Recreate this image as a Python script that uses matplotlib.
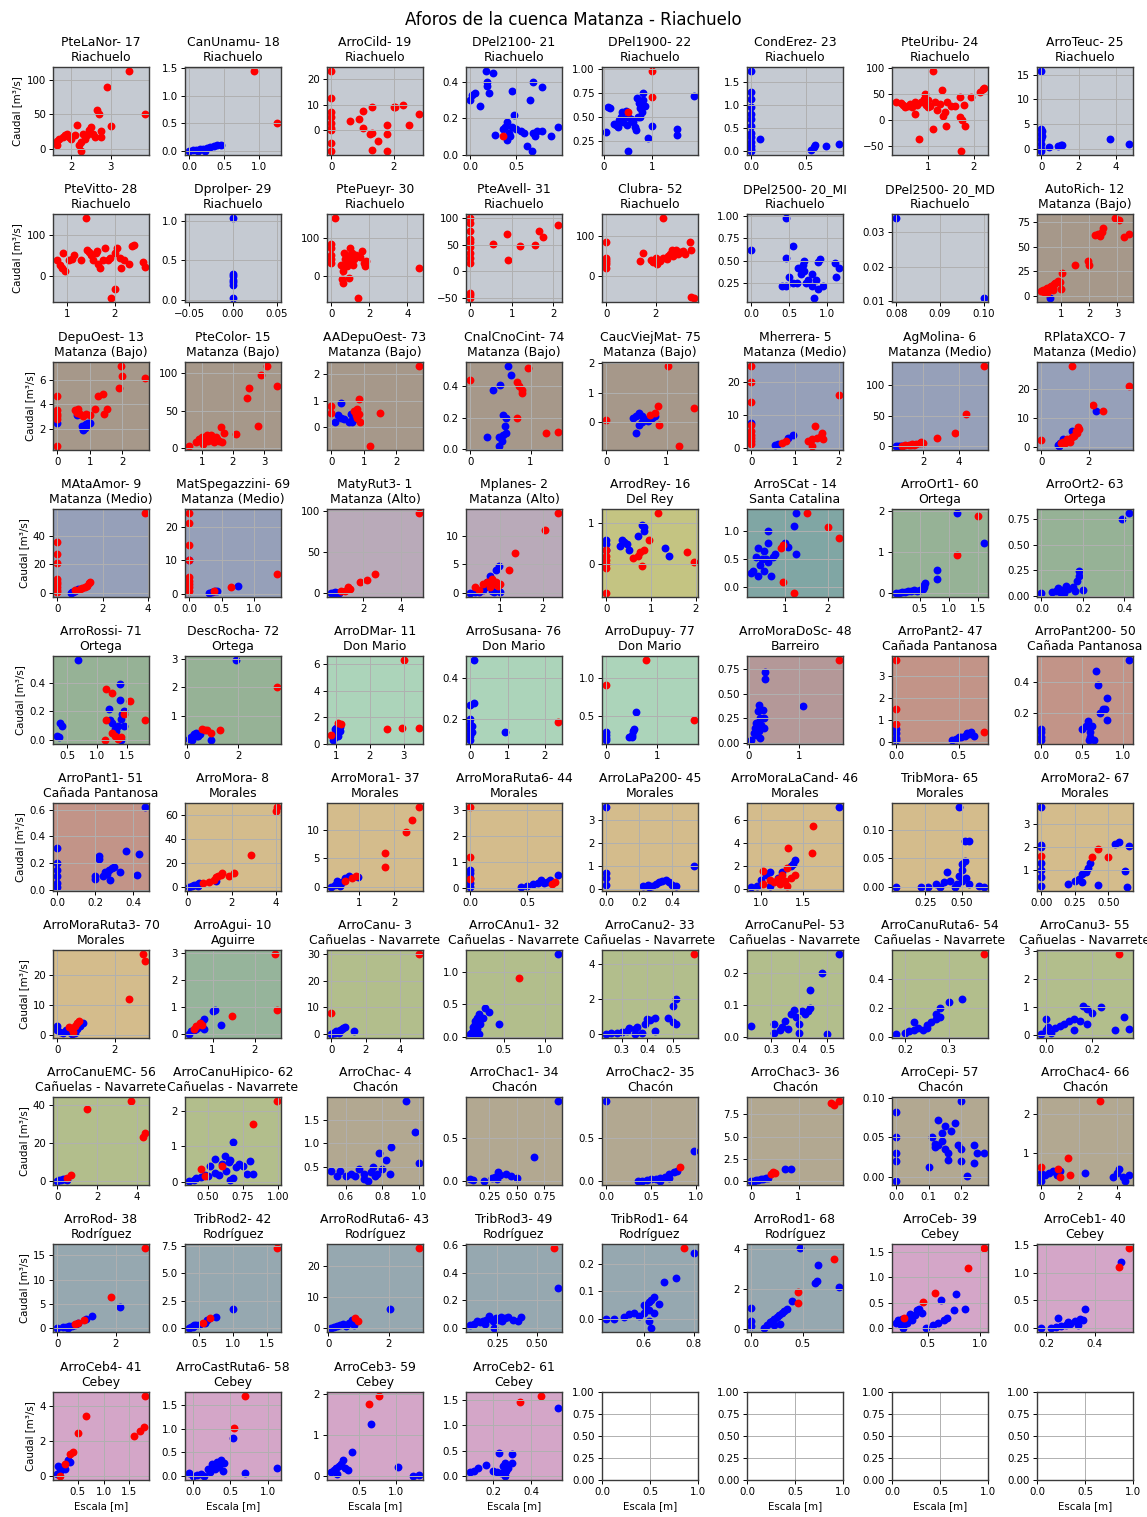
import matplotlib
matplotlib.use("Agg")
import matplotlib.pyplot as plt

# estaciones y cuencas, en el orden de los paneles
estaciones = ["PteLaNor- 17", "CanUnamu- 18", "ArroCild- 19", "DPel2100- 21",
              "DPel1900- 22", "CondErez- 23", "PteUribu- 24", "ArroTeuc- 25",
              "PteVitto- 28", "Dprolper- 29", "PtePueyr- 30", "PteAvell- 31",
              "Clubra- 52", "DPel2500- 20_MI", "DPel2500- 20_MD", "AutoRich- 12",
              "DepuOest- 13", "PteColor- 15", "AADepuOest- 73", "CnalCnoCint- 74",
              "CaucViejMat- 75", "Mherrera- 5", "AgMolina- 6", "RPlataXCO- 7",
              "MAtaAmor- 9", "MatSpegazzini- 69", "MatyRut3- 1", "Mplanes- 2",
              "ArrodRey- 16", "ArroSCat - 14", "ArroOrt1- 60", "ArroOrt2- 63",
              "ArroRossi- 71", "DescRocha- 72", "ArroDMar- 11", "ArroSusana- 76",
              "ArroDupuy- 77", "ArroMoraDoSc- 48", "ArroPant2- 47", "ArroPant200- 50",
              "ArroPant1- 51", "ArroMora- 8", "ArroMora1- 37", "ArroMoraRuta6- 44",
              "ArroLaPa200- 45", "ArroMoraLaCand- 46", "TribMora- 65", "ArroMora2- 67",
              "ArroMoraRuta3- 70", "ArroAgui- 10", "ArroCanu- 3", "ArroCAnu1- 32",
              "ArroCanu2- 33", "ArroCanuPel- 53", "ArroCanuRuta6- 54", "ArroCanu3- 55",
              "ArroCanuEMC- 56", "ArroCanuHipico- 62", "ArroChac- 4", "ArroChac1- 34",
              "ArroChac2- 35", "ArroChac3- 36", "ArroCepi- 57", "ArroChac4- 66",
              "ArroRod- 38", "TribRod2- 42", "ArroRodRuta6- 43", "TribRod3- 49",
              "TribRod1- 64", "ArroRod1- 68", "ArroCeb- 39", "ArroCeb1- 40",
              "ArroCeb4- 41", "ArroCastRuta6- 58", "ArroCeb3- 59", "ArroCeb2- 61"]

cuencas = (["Riachuelo"] * 15 + ["Matanza (Bajo)"] * 6 + ["Matanza (Medio)"] * 3
           + ["Matanza (Medio)"] * 2 + ["Matanza (Alto)"] * 2 + ["Del Rey", "Santa Catalina"]
           + ["Ortega"] * 4 + ["Don Mario"] * 3 + ["Barreiro"] + ["Cañada Pantanosa"] * 3
           + ["Morales"] * 8 + ["Aguirre"] + ["Cañuelas - Navarrete"] * 8
           + ["Chacón"] * 6 + ["Rodríguez"] * 6 + ["Cebey"] * 6)

colores_cuenca = {"Riachuelo": "#c5cad2", "Matanza (Bajo)": "#a6988a",
                  "Matanza (Medio)": "#96a0b9", "Matanza (Alto)": "#b9aab9",
                  "Del Rey": "#c4c482", "Santa Catalina": "#80a6a4",
                  "Ortega": "#96b296", "Don Mario": "#acd4ba", "Barreiro": "#b49898",
                  "Cañada Pantanosa": "#c29488", "Morales": "#d4bc8c",
                  "Aguirre": "#96b49b", "Cañuelas - Navarrete": "#b2be8c",
                  "Chacón": "#b2a891", "Rodríguez": "#96a8b0", "Cebey": "#d4a6c8"}

# aforos: [escala [m], caudal [m3/s]] -- rojo y azul por panel
p01_rojo = [[3.45, 2.9, 2.65, 2.7, 3.85, 3.0, 2.75, 2.75, 2.5, 2.55, 2.4, 2.15, 2.3, 2.25, 2.2, 2.25, 1.9, 1.8, 1.95, 1.7, 1.65, 1.65, 2.0, 2.1, 2.6, 2.35, 1.85, 2.45],
            [113, 90, 56, 50, 50, 33, 26, 17, 32, 22, 20, 35, 22, 10, 5, -3, 22, 17, 18, 14, 12, 5, 15, 20, 18, 15, 20, 28]]
p01_azul = [[], []]
p02_rojo = [[0.92, 1.25], [1.45, 0.5]]
p02_azul = [[0, 0.05, 0.1, 0.15, 0.2, 0.25, 0.3, 0.35, 0.4, 0.45, 0.22, 0.12],
            [0, 0.01, 0.02, 0.03, 0.04, 0.05, 0.07, 0.09, 0.1, 0.11, 0.0, 0.0]]
p03_rojo = [[0, 0, 0, 0, 0, 0, 0, 0, 0, 0.6, 0.9, 1.0, 1.0, 1.3, 1.25, 1.3, 1.3, 1.5, 1.8, 1.8, 1.8, 2.0, 2.05, 2.3, 2.5, 2.8],
            [23, 12.5, 7, 5, 3, 1, -5, -8, 0, 3.5, 4.5, 7.5, 1, 9, -1.5, -1, -7.5, -4, 2, -1.5, -8, 9, 9, 10, 2, 6.5]]
p03_azul = [[], []]
p04_rojo = [[0.35], [0.1]]
p04_azul = [[0.0, 0.02, 0.05, 0.1, 0.17, 0.18, 0.18, 0.2, 0.25, 0.27, 0.35, 0.38, 0.4, 0.4, 0.42, 0.45, 0.47, 0.5, 0.55, 0.58, 0.62, 0.65, 0.67, 0.68, 0.68, 0.7, 0.72, 0.78, 0.78, 0.88, 0.95, 0.45, 0.43],
            [0.3, 0.33, 0.34, 0.27, 0.46, 0.4, 0.38, 0.34, 0.45, 0.11, 0.14, 0.15, 0.18, 0.08, 0.12, 0.35, 0.22, 0.14, 0.13, 0.12, 0.05, 0.3, 0.02, 0.4, 0.12, 0.1, 0.13, 0.37, 0.13, 0.1, 0.15, 0.15, 0.1]]
p05_rojo = [[1.0, 1.0, 0.5], [0.98, 0.71, 0.55]]
p05_azul = [[0.05, 0.08, 0.12, 0.2, 0.25, 0.3, 0.32, 0.35, 0.38, 0.4, 0.45, 0.48, 0.5, 0.5, 0.55, 0.6, 0.65, 0.67, 0.68, 0.72, 0.75, 0.78, 0.8, 0.8, 0.85, 0.9, 1.0, 1.5, 1.5, 1.85, 0.7, 0.75],
            [0.35, 0.61, 0.6, 0.43, 0.42, 0.4, 0.47, 0.5, 0.55, 0.45, 0.56, 0.42, 0.15, 0.5, 0.48, 0.45, 0.4, 0.37, 0.7, 0.65, 0.6, 0.55, 0.75, 0.68, 0.62, 0.28, 0.41, 0.38, 0.32, 0.72, 0.5, 0.5]]
p06_rojo = [[], []]
p06_azul = [[0, 0, 0, 0, 0, 0, 0, 0, 0, 0, 0, 0, 0, 0.08, 0.55, 0.57, 0.58, 0.68, 0.8],
            [1.73, 1.27, 1.13, 0.95, 0.8, 0.7, 0.55, 0.4, 0.3, 0.2, 0.1, 0.05, 0.0, 0.25, 0.03, 0.08, 0.12, 0.1, 0.15]]
p07_rojo = [[0.3, 0.4, 0.45, 0.5, 0.55, 0.6, 0.65, 0.7, 0.72, 0.75, 0.8, 0.85, 0.9, 0.92, 0.95, 1.0, 1.0, 1.05, 1.1, 1.1, 1.15, 1.2, 1.25, 1.3, 1.32, 1.38, 1.4, 1.42, 1.5, 1.6, 1.7, 1.7, 1.72, 1.75, 1.78, 1.8, 1.95, 2.15, 2.2, 2.22],
            [35, 33, 30, 25, 28, 32, 25, 12, 35, 30, -37, 35, 40, 50, 30, 25, 38, 28, 95, -18, 35, 20, 32, 58, 8, 15, -12, 35, 28, 28, 45, 5, -60, 0, 30, -12, 45, 55, 60, 63]]
p07_azul = [[], []]
p08_rojo = [[], []]
p08_azul = [[0, 0, 0, 0, 0, 0, 0, 0.05, 0.05, 0.4, 0.9, 1.1, 1.05, 3.7, 4.7],
            [15.8, 4, 3, 2, 1, 0, -0.5, 3.5, 2.5, 0.4, 0.6, 0.8, 0.7, 1.9, 1.0]]

p09_rojo = [[0.8, 0.85, 0.9, 0.95, 0.92, 1.05, 1.1, 1.15, 1.3, 1.4, 1.42, 1.45, 1.5, 1.55, 1.6, 1.62, 1.65, 1.68, 1.75, 1.8, 1.85, 1.9, 1.92, 2.0, 2.0, 2.05, 2.1, 2.12, 2.2, 2.3, 2.35, 2.4, 2.58, 2.62],
            [40, 28, 20, 12, 55, 38, 42, 50, 38, 140, 62, 58, 50, 40, 55, 60, 30, 20, 38, 68, 40, 45, -52, -30, 55, 68, 45, 20, 40, 30, 72, 75, 35, 22]]
p09_azul = [[], []]
p10_rojo = [[], []]
p10_azul = [[0, 0, 0, 0, 0, 0, 0], [1.04, 0.33, 0.3, 0.25, 0.22, 0.18, 0.02]]
p11_rojo = [[0.2, 0, 0, 0, 0, 0, 0.5, 0.55, 0.6, 0.6, 0.7, 0.75, 0.8, 0.85, 0.9, 0.95, 1.0, 1.05, 1.1, 1.15, 1.2, 1.3, 1.4, 1.5, 1.6, 1.7, 1.75, 1.8, 0.65, 4.6],
            [155, 85, 75, 55, 45, 35, 30, -10, -20, 12, 45, 55, 40, 25, 50, -5, 75, 40, 60, 30, 45, 55, -60, 50, 65, 35, 25, 40, 60, 20]]
p11_azul = [[], []]
p12_rojo = [[0, 0, 0, 0, 0, 0, 0, 0, 0, 0, 0, 0, 0.55, 0.88, 0.9, 1.2, 1.55, 1.65, 1.75, 2.1],
            [100, 90, 75, 60, 55, 45, 35, 25, 15, -40, -45, -50, 52, 70, 22, 48, 50, 75, 65, 87]]
p12_azul = [[], []]
p13_rojo = [[0, 0, 0, 0, 0, 0, 1.35, 1.5, 1.8, 1.9, 2.0, 2.05, 2.1, 2.2, 2.3, 2.3, 2.45, 2.5, 2.6, 2.65, 2.7, 2.8, 2.85, 2.9, 3.0, 3.1, 3.2, 3.4, 3.45, 3.45, 3.55],
            [85, 40, 35, 30, 20, 45, 38, 57, 40, 35, 45, 30, 40, 38, 145, 45, 42, 50, 55, 65, 50, 60, 65, 55, 60, 62, 55, 85, 65, -52, -55]]
p13_azul = [[], []]
p14_rojo = [[], []]
p14_azul = [[0, 0.45, 0.45, 0.4, 0.45, 0.5, 0.55, 0.55, 0.6, 0.65, 0.68, 0.7, 0.7, 0.75, 0.8, 0.8, 0.82, 0.85, 0.88, 0.9, 0.88, 0.95, 1.1, 1.12, 1.15, 0.62, 0.72],
            [0.62, 0.98, 0.53, 0.22, 0.22, 0.32, 0.66, 0.25, 0.25, 0.35, 0.45, 0.5, 0.38, 0.28, 0.35, 0.22, 0.08, 0.28, 0.48, 0.52, 0.18, 0.22, 0.47, 0.32, 0.42, 0.42, 0.25]]
p15_rojo = [[], []]
p15_azul = [[0.08, 0.1], [0.034, 0.011]]
p16_rojo = [[0.3, 0.35, 0.4, 0.45, 0.5, 0.55, 0.6, 0.65, 0.7, 0.75, 0.8, 0.9, 0.95, 1.0, 1.05, 1.5, 1.95, 2.0, 2.2, 2.3, 2.4, 2.45, 2.5, 2.9, 3.05, 3.25, 3.4, 0.5, 0.7],
            [5, 6, 4, 7, 8, 5, 9, 10, 8, 12, 13, 15, 14, 7, 23, 31, 35, 31, 62, 63, 61, 65, 69, 79, 77, 60, 63, 3, 6]]
p16_azul = [[0.6], [-2]]

p17_rojo = [[0, 0, 0, 0, 0, 0, 0.55, 0.6, 0.65, 0.7, 0.8, 0.9, 1.0, 1.15, 1.25, 1.4, 1.45, 1.55, 1.9, 1.98, 2.0, 2.7],
            [4.7, 3.5, 3.2, 3.0, 2.8, 0.6, 3.5, 3.3, 3.6, 3.2, 3.0, 3.2, 3.1, 3.6, 4.7, 4.8, 3.2, 3.6, 5.3, 7.1, 6.3, 6.1]]
p17_azul = [[0, 0.6, 0.75, 0.8, 0.8, 0.85, 0.9, 0.95, 1.0, 0.85, 0.9],
            [2.5, 3.1, 2.2, 2.0, 1.9, 2.3, 2.4, 2.5, 2.5, 2.1, 2.2]]
p18_rojo = [[0.6, 0.8, 0.9, 0.95, 1.0, 1.05, 1.1, 1.15, 1.2, 1.25, 1.3, 1.35, 1.4, 1.45, 1.5, 1.55, 1.6, 1.7, 1.65, 2.1, 2.45, 2.5, 2.8, 2.9, 3.1, 3.4],
            [3, 8, 12, 10, 15, 5, 12, 18, 10, 14, 17, 12, 8, 15, 12, 10, 28, 20, 8, 19, 67, 80, 29, 97, 109, 82]]
p18_azul = [[], []]
p19_rojo = [[0, 0, 0.7, 0.75, 0.8, 0.85, 0.85, 0.9, 0.8, 1.2, 1.5, 2.7],
            [0.8, 0.55, 0.6, 0.45, 0.7, 1.05, 0.5, 0.2, 0.35, -0.7, 0.55, 2.3]]
p19_azul = [[0.1, 0.2, 0.3, 0.3, 0.4, 0.55, 0.6, 0.6, 0.65, 0.7],
            [0.2, 0.45, 0.9, 0.35, 0.3, 0.2, 0.5, 0.25, 0.2, 0.3]]
p20_rojo = [[0, 0.78, 0.8, 0.85, 0.85, 0.95, 0.78, 1.25, 1.45],
            [0.44, 0.43, 0.4, 0.38, 0.36, 0.52, 0.2, 0.1, 0.11]]
p20_azul = [[0.28, 0.38, 0.5, 0.47, 0.47, 0.52, 0.55, 0.58, 0.6, 0.6, 0.62, 0.67, 0.55],
            [0.08, 0.38, 0.41, 0.08, 0.02, 0.05, 0.22, 0.15, 0.1, 0.2, 0.53, 0.47, 0.09]]
p21_rojo = [[0, 0.72, 0.8, 0.85, 0.88, 1.02, 1.2, 1.45],
            [0.07, 0.25, 0.3, 0.55, -0.1, 1.9, -0.8, 0.48]]
p21_azul = [[0.45, 0.5, 0.5, 0.55, 0.6, 0.6, 0.65, 0.7, 0.75, 0.8, 0.55],
            [0.15, 0.2, -0.35, 0.3, 0.2, 0.0, 0.1, 0.05, 0.15, 0.2, -0.1]]
p22_rojo = [[0, 0, 0, 0, 0, 0, 0, 0, 0, 0.7, 0.8, 1.3, 1.4, 1.45, 1.4, 1.5, 1.6, 1.62, 1.65, 2.0],
            [25, 20, 14, 7, 5, 4, 3, 2, 1, 1.5, 2, 2, 2.5, 6.5, 0.5, 3, 3.5, 4.5, 2.5, 16]]
p22_azul = [[0, 0.55, 0.6, 0.85, 0.95], [7.5, 0.8, 1, 3, 4]]
p23_rojo = [[0.8, 1.0, 1.2, 1.4, 1.6, 1.8, 1.9, 2.0, 2.8, 3.8, 4.4, 5.4, 1.5, 1.3],
            [0, 1, 2, 3, 4, 5, 6, 5, 13, 22, 52, 132, 2, 1.5]]
p23_azul = [[0.5, 0.6, 0.7, 0.8], [0, 0.2, 0.5, 0.3]]
p24_rojo = [[0, 1.3, 0.85, 0.9, 1.0, 1.1, 1.2, 1.3, 1.4, 1.45, 1.5, 1.55, 1.6, 2.2, 2.6, 3.7],
            [2.5, 28, 1.5, 2, 1.5, 3, 2, 3.5, 4, 5.5, 5, 7, 6.5, 14.5, 12.5, 21]]
p24_azul = [[0.7, 0.75, 0.8, 0.9, 1.0, 1.3, 2.3], [1, 0.5, 1.5, 3, 2, 5.5, 12.5]]

p25_rojo = [[0, 0, 0, 0, 0, 0, 0, 0, 0, 0.8, 1.0, 1.1, 1.2, 1.3, 1.4, 1.45, 3.85],
            [36, 27, 21, 10, 8, 6, 4, 2, 1, 2, 3, 3.5, 4, 5, 7, 8, 56]]
p25_azul = [[0.6, 0.7, 0.8, 0.9, 0.65], [0, 1, 1.5, 2.5, 0.5]]
p26_rojo = [[0, 0, 0, 0, 0, 0, 0, 0, 0, 0.38, 0.65, 1.35],
            [24, 21, 14.5, 10, 5, 4, 3, 2, 1, 1, 2, 6]]
p26_azul = [[0, 0.3, 0.35, 0.4, 0.42, 0.75], [10, 0.3, 0.5, 0.8, 1.0, 2.5]]
p27_rojo = [[0.8, 1.0, 1.2, 1.3, 1.8, 2.2, 2.6, 4.95], [2, 3, 7, 5, 13, 16, 23, 98]]
p27_azul = [[0.3, 0.4, 0.5, 0.6, 0.7], [0, 0.5, 1, 0, 0.5]]
p28_rojo = [[0.4, 0.5, 0.6, 0.7, 0.75, 0.8, 0.85, 0.9, 0.95, 1.0, 1.2, 1.35, 2.05, 2.35],
            [1, 0.5, 1.5, 2, 1, 2.5, 1.5, 2, 1.2, 1.5, 4, 7, 11, 14]]
p28_azul = [[0.3, 0.4, 0.5, 0.6, 0.65, 0.7, 0.75, 0.8, 0.9, 0.98, 1.0, 0.85],
            [0, 0.1, 0.2, 0.5, 1, 2, 3, 0.3, 4, 4.7, 0.2, 0.1]]
p29_rojo = [[0, 0, 0, 0, 0, 0, 0.6, 0.7, 0.75, 0.8, 0.85, 0.95, 1.15, 1.8, 1.95],
            [0.35, 0.2, 0.1, 0.0, -0.1, -0.7, 0.15, 0.2, 0.3, -0.05, 0.35, 0.6, 1.25, 0.3, 0.05]]
p29_azul = [[0, 0, 0, 0.3, 0.35, 0.4, 0.45, 0.5, 0.7, 0.8, 0.85, 0.85, 1.3, 1.4],
            [0.6, 0.5, 0.35, 0.45, 0.6, 0.55, 0.5, 0.35, 0.7, 0.95, 0.9, 0.8, 0.4, 0.2]]
p30_rojo = [[0.9, 0.95, 0.95, 1.2, 1.5, 2.0, 2.25], [0.7, 0.75, 0.1, -0.1, 1.33, 1.08, 0.88]]
p30_azul = [[0.2, 0.25, 0.3, 0.35, 0.35, 0.4, 0.45, 0.5, 0.5, 0.55, 0.6, 0.6, 0.6, 0.65, 0.7, 0.75, 1.0, 1.05, 1.2, 1.25, 1.25],
            [0.25, 0.3, 0.55, 0.2, 0.7, 0.4, 0.5, 0.65, 0.3, 0.5, 1.0, 0.8, 0.45, 0.2, 0.55, 0.6, 0.8, 0.72, 1.1, 1.33, 0.6]]
p31_rojo = [[1.15, 1.5], [0.93, 1.88]]
p31_azul = [[0.1, 0.15, 0.2, 0.25, 0.3, 0.35, 0.4, 0.45, 0.5, 0.55, 0.58, 0.6, 0.8, 0.8, 1.15, 1.6, 0.58],
            [0, 0, 0.02, 0.03, 0.05, 0.05, 0.07, 0.06, 0.08, 0.1, 0.2, 0.25, 0.55, 0.35, 1.95, 1.23, 0.15]]
p32_rojo = [[], []]
p32_azul = [[0, 0.05, 0.07, 0.08, 0.1, 0.12, 0.13, 0.15, 0.16, 0.17, 0.18, 0.18, 0.2, 0.09, 0.11, 0.39, 0.42],
            [0.03, 0.04, 0.05, 0.08, 0.06, 0.1, 0.07, 0.09, 0.05, 0.15, 0.2, 0.24, 0.06, 0.04, 0.03, 0.75, 0.81]]

p33_rojo = [[1.15, 1.15, 1.13, 1.25, 1.25, 1.3, 1.35, 1.45, 1.55, 1.8, 1.4],
            [0.36, 0.14, 0.0, 0.33, 0.05, 0.03, 0.01, 0.18, 0.27, 0.14, 0.02]]
p33_azul = [[0.33, 0.35, 0.38, 0.4, 0.68, 1.2, 1.22, 1.25, 1.3, 1.32, 1.35, 1.38, 1.38, 1.4, 1.42, 1.45, 1.45, 1.4],
            [0.03, 0.02, 0.12, 0.1, 0.56, 0.22, 0.14, 0.12, 0.08, 0.06, 0.1, 0.39, 0.28, 0.15, 0.18, 0.2, 0.1, 0.0]]
p34_rojo = [[0.6, 0.7, 0.8, 0.95, 1.3, 3.5], [0.55, 0.5, 0.5, 0.4, 0.5, 2.0]]
p34_azul = [[0.1, 0.15, 0.2, 0.25, 0.3, 0.35, 0.4, 0.45, 0.5, 0.95, 1.9],
            [0.2, 0.25, 0.15, 0.3, 0.35, 0.4, 0.3, 0.3, 0.35, 0.15, 2.95]]
p35_rojo = [[0.85, 1.05, 1.15, 2.5, 2.95, 3.45, 3.0], [0.7, 1.6, 1.5, 1.15, 1.2, 1.2, 6.3]]
p35_azul = [[0.9, 0.95, 1.0, 1.0, 1.05, 1.1, 1.1, 0.95], [0.3, 0.5, 0.8, 1.2, 0.6, 1.0, 1.3, 1.1]]
p36_rojo = [[2.35], [0.19]]
p36_azul = [[0, 0, 0, 0, 0, 0, 0, 0, 0.05, 0.1, 0.1, 0.05, 0.92],
            [0.2, 0.18, 0.16, 0.15, 0.13, 0.12, 0.1, 0.27, 0.17, 0.28, 0.49, 0.14, 0.14]]
p37_rojo = [[0, 0.78, 1.72], [0.91, 1.24, 0.45]]
p37_azul = [[0, 0, 0, 0, 0.45, 0.5, 0.52, 0.55, 0.58, 0.5],
            [0.28, 0.25, 0.2, 0.18, 0.22, 0.25, 0.3, 0.33, 0.55, 0.22]]
p38_rojo = [[1.78], [0.84]]
p38_azul = [[0.05, 0.1, 0.12, 0.15, 0.18, 0.2, 0.22, 0.25, 0.28, 0.3, 0.32, 0.32, 0.22, 0.15, 1.08, 0.3, 0.2],
            [0.03, 0.1, 0.15, 0.2, 0.32, 0.38, 0.25, 0.18, 0.33, 0.15, 0.72, 0.65, 0.05, 0.08, 0.37, 0.25, 0.12]]
p39_rojo = [[0, 0, 0, 0.7], [3.7, 1.5, 0.8, 0.45]]
p39_azul = [[0, 0, 0, 0, 0.45, 0.48, 0.5, 0.52, 0.55, 0.57, 0.6, 0.58, 0.62],
            [0.6, 0.4, 0.2, 0.1, 0.1, 0.15, 0.22, 0.25, 0.3, 0.4, 0.45, 0.35, 0.3]]
p40_rojo = [[], []]
p40_azul = [[0, 0, 0, 0, 0.5, 0.55, 0.57, 0.6, 0.6, 0.62, 0.65, 0.67, 0.7, 0.72, 0.75, 0.78, 0.8, 0.8, 1.07, 0.58],
            [0.1, 0.08, 0.05, 0.03, 0.1, 0.12, 0.15, 0.08, 0.05, 0.12, 0.03, 0.47, 0.38, 0.2, 0.23, 0.23, 0.3, 0.16, 0.54, 0.03]]

p41_rojo = [[], []]
p41_azul = [[0, 0, 0, 0, 0, 0, 0.2, 0.2, 0.22, 0.22, 0.24, 0.25, 0.27, 0.28, 0.3, 0.33, 0.36, 0.42, 0.43, 0.46, 0.26, 0.29],
            [0.31, 0.2, 0.15, 0.1, 0.05, 0.02, 0.1, 0.08, 0.25, 0.23, 0.1, 0.13, 0.15, 0.07, 0.17, 0.13, 0.29, 0.11, 0.27, 0.62, 0.12, 0.16]]
p42_rojo = [[0.7, 1.0, 1.2, 1.3, 1.4, 1.5, 1.55, 1.9, 2.1, 2.85, 4.0, 4.02],
            [3, 4, 6, 8, 9, 10, 12, 9, 12, 27, 64, 67]]
p42_azul = [[0.1, 0.2, 0.3, 0.4, 0.5, 0.55, 1.3], [0, 1, 1.5, 2, 1, 3, 5]]
p43_rojo = [[0.6, 0.8, 0.9, 1.75, 1.75, 2.35, 2.5, 2.7], [1, 1.5, 2, 6, 3.5, 9.7, 11.8, 14]]
p43_azul = [[0.2, 0.3, 0.35, 0.4, 0.5, 0.6, 0.7, 0.95, 0.45], [0, 0.3, 1, 0.5, 0.8, 1.5, 2, 1.8, 0.2]]
p44_rojo = [[0, 0, 0, 0.75, 0.72], [3.1, 1.2, 0.35, 0.25, 0.15]]
p44_azul = [[0, 0, 0, 0, 0, 0.45, 0.5, 0.55, 0.6, 0.62, 0.65, 0.68, 0.7, 0.77],
            [0.7, 0.6, 0.4, 0.2, 0.05, 0.05, 0.1, 0.15, 0.2, 0.3, 0.2, 0.25, 0.3, 0.5]]
p45_rojo = [[], []]
p45_azul = [[0, 0, 0, 0, 0.22, 0.25, 0.28, 0.3, 0.32, 0.34, 0.36, 0.38, 0.4, 0.42, 0.53, 0.26],
            [3.55, 0.7, 0.5, 0.2, 0.15, 0.2, 0.15, 0.25, 0.3, 0.35, 0.4, 0.3, 0.2, 0.15, 1.02, 0.1]]
p46_rojo = [[1.02, 1.02, 1.1, 1.15, 1.2, 1.25, 1.28, 1.3, 1.32, 1.35, 1.4, 1.6, 1.62, 1.22, 1.3],
            [1.6, 0.5, 0.8, 0.6, 0.9, 1.2, 0.7, 1.8, 3.6, 1.0, 1.2, 3.1, 5.5, 0.5, 0.3]]
p46_azul = [[0.88, 0.95, 1.0, 1.05, 1.1, 1.2, 1.25, 1.35, 1.38, 1.4, 1.92, 1.1],
            [0.2, 0.3, 0.8, 1.2, 1.5, 1.0, 1.5, 2.0, 2.2, 2.5, 7.1, 0.3]]
p47_rojo = [[], []]
p47_azul = [[0.05, 0.22, 0.27, 0.32, 0.35, 0.38, 0.4, 0.42, 0.45, 0.47, 0.48, 0.48, 0.5, 0.5, 0.52, 0.52, 0.53, 0.55, 0.55, 0.62, 0.65, 0.5],
            [0.0, 0.0, 0.0, 0.005, 0.0, 0.008, 0.027, 0.01, 0.0, 0.005, 0.14, 0.02, 0.04, 0.03, 0.045, 0.08, 0.015, 0.08, 0.005, 0.002, 0.0, 0.01]]
p48_rojo = [[0, 0.38, 0.42, 0.5], [1.6, 1.55, 1.9, 1.55]]
p48_azul = [[0, 0, 0, 0, 0, 0, 0, 0.2, 0.25, 0.28, 0.3, 0.33, 0.35, 0.36, 0.42, 0.55, 0.58, 0.62, 0.64, 0.65, 0.3],
            [3.75, 2.1, 2.0, 1.3, 1.0, 0.7, 0.3, 0.4, 0.5, 0.6, 0.8, 0.9, 1.1, 1.3, 0.35, 2.15, 2.2, 0.95, 0.25, 2.05, 0.45]]

p49_rojo = [[0.4, 0.5, 0.6, 0.7, 0.75, 0.55, 2.5, 3.0, 3.05], [2.5, 2, 3, 4, 4.5, 1, 12, 27, 24.5]]
p49_azul = [[0, 0, 0.1, 0.2, 0.3, 0.4, 0.5, 0.6, 0.8, 0.9, 0.7], [3, 1.5, 1, 0.5, 1.5, 1, 0.3, 0.8, 3, 4, 2]]
p50_rojo = [[0.55, 0.6, 0.7, 0.75, 1.45, 2.48, 2.52], [0.2, 0.3, 0.4, 0.35, 0.68, 2.95, 0.88]]
p50_azul = [[0.45, 0.5, 0.55, 0.6, 0.65, 0.7, 0.75, 0.8, 0.8, 1.0, 1.05, 1.2],
            [0.0, 0.1, 0.15, 0.2, 0.3, 0.25, 0.45, 0.55, 0.2, 0.85, 0.9, 0.35]]
p51_rojo = [[0, 5.1], [8, 30]]
p51_azul = [[0, 0.1, 0.2, 0.3, 0.4, 0.5, 0.6, 0.7, 0.8, 1.35, 0.45], [0, 0.5, 0.3, 1, 0.8, 1.5, 2, 2.2, 2.5, 1.3, 0.2]]
p52_rojo = [[0.68], [0.9]]
p52_azul = [[0.1, 0.12, 0.13, 0.15, 0.16, 0.18, 0.2, 0.22, 0.25, 0.28, 0.32, 0.45, 1.15, 0.18, 0.2, 0.15],
            [0.05, 0.08, 0.15, 0.2, 0.25, 0.3, 0.35, 0.2, 0.3, 0.45, 0.38, 0.2, 1.27, 0.12, 0.05, 0.05]]
p53_rojo = [[0.58], [4.6]]
p53_azul = [[0.24, 0.26, 0.28, 0.3, 0.32, 0.33, 0.35, 0.36, 0.38, 0.39, 0.4, 0.41, 0.43, 0.43, 0.48, 0.5, 0.51, 0.51, 0.5, 0.35],
            [0.0, 0.05, 0.05, 0.1, 0.15, 0.35, 0.3, 0.4, 0.05, 0.6, 0.85, 0.8, 0.9, 0.2, 0.9, 1.6, 2.0, 0.55, 0.7, 0.0]]
p54_rojo = [[], []]
p54_azul = [[0.23, 0.31, 0.31, 0.33, 0.34, 0.35, 0.36, 0.37, 0.38, 0.39, 0.4, 0.4, 0.42, 0.43, 0.44, 0.44, 0.48, 0.5, 0.54, 0.41],
            [0.032, 0.04, 0.012, 0.02, 0.03, 0.05, 0.025, 0.07, 0.085, 0.06, 0.04, 0.012, 0.07, 0.08, 0.09, 0.148, 0.2, 0.008, 0.26, 0.08]]
p55_rojo = [[0.38], [0.57]]
p55_azul = [[0.18, 0.2, 0.21, 0.22, 0.23, 0.24, 0.25, 0.26, 0.27, 0.27, 0.28, 0.28, 0.3, 0.33, 0.22, 0.25],
            [0.02, 0.03, 0.04, 0.05, 0.06, 0.05, 0.08, 0.1, 0.12, 0.16, 0.14, 0.2, 0.24, 0.26, 0.1, 0.06]]
p56_rojo = [[0.32], [2.9]]
p56_azul = [[-0.02, 0.0, 0.0, 0.01, 0.02, 0.04, 0.06, 0.08, 0.1, 0.12, 0.12, 0.15, 0.16, 0.18, 0.18, 0.2, 0.24, 0.3, 0.34, 0.36],
            [0.05, 0.2, 0.6, 0.3, 0.1, 0.25, 0.35, 0.4, 0.5, 0.6, 0.2, 0.5, 1.05, 0.95, 0.4, 0.8, 1.02, 0.2, 0.65, 0.22]]

p57_rojo = [[0.5, 0.7, 1.5, 3.7, 4.3, 4.4], [1.5, 3, 38, 42, 23, 25]]
p57_azul = [[0, 0.1, 0.2, 0.3, 0.4, 0.5], [0, 0.3, 0.5, 1, 1.2, 0.5]]
p58_rojo = [[0.45, 0.48, 0.6, 0.82, 0.99], [0.37, 0.15, 0.45, 1.62, 2.27]]
p58_azul = [[0.37, 0.4, 0.42, 0.45, 0.48, 0.5, 0.52, 0.55, 0.55, 0.58, 0.6, 0.62, 0.63, 0.65, 0.66, 0.68, 0.68, 0.7, 0.72, 0.75, 0.78, 0.8, 0.82, 0.66],
            [0.02, 0.05, 0.1, 0.12, 0.2, 0.15, 0.45, 0.25, 0.65, 0.2, 0.5, 0.72, 0.3, 0.55, 0.62, 1.12, 0.1, 0.4, 0.5, 0.45, 0.22, 0.58, 0.22, 0.05]]
p59_rojo = [[], []]
p59_azul = [[0.52, 0.55, 0.57, 0.6, 0.63, 0.65, 0.67, 0.7, 0.72, 0.74, 0.75, 0.77, 0.78, 0.8, 0.82, 0.84, 0.85, 0.93, 0.98, 1.0, 0.7, 0.76],
            [0.42, 0.3, 0.42, 0.3, 0.35, 0.3, 0.45, 0.25, 0.2, 0.4, 0.5, 0.35, 0.8, 0.45, 0.65, 0.35, 0.92, 1.9, 1.25, 0.58, 0.35, 0.3]]
p60_rojo = [[], []]
p60_azul = [[0.08, 0.1, 0.2, 0.28, 0.3, 0.33, 0.35, 0.4, 0.45, 0.5, 0.66, 0.87, 0.32],
            [0.02, 0.01, 0.0, 0.03, 0.05, 0.1, 0.07, 0.08, 0.06, 0.04, 0.28, 0.92, 0.02]]
p61_rojo = [[0.82], [0.17]]
p61_azul = [[0.0, 0.35, 0.4, 0.45, 0.5, 0.55, 0.6, 0.65, 0.7, 0.75, 0.78, 0.97, 0.6, 0.7],
            [0.94, 0.0, 0.0, 0.01, 0.02, 0.02, 0.03, 0.05, 0.08, 0.1, 0.12, 0.35, 0.0, 0.03]]
p62_rojo = [[0.42, 0.45, 0.5, 1.68, 1.75, 1.85], [0.8, 1.0, 0.9, 8.8, 8.6, 9.0]]
p62_azul = [[0.0, 0.05, 0.1, 0.15, 0.2, 0.25, 0.3, 0.35, 0.72, 0.85],
            [0.0, 0.05, 0.1, 0.15, 0.2, 0.25, 0.3, 0.3, 1.4, 1.3]]
p63_rojo = [[], []]
p63_azul = [[0, 0, 0, 0, 0, 0.1, 0.11, 0.12, 0.12, 0.13, 0.14, 0.15, 0.15, 0.16, 0.16, 0.17, 0.18, 0.19, 0.2, 0.2, 0.2, 0.22, 0.24, 0.24, 0.25, 0.27, 0.13, 0.14],
            [0.082, 0.05, 0.03, 0.02, -0.005, 0.013, 0.05, 0.042, 0.038, 0.072, 0.055, 0.065, 0.035, 0.022, 0.03, 0.058, 0.068, 0.04, 0.096, 0.035, 0.02, 0.001, 0.04, 0.018, 0.03, 0.03, 0.04, 0.045]]
p64_rojo = [[0, 0.9, 1.0, 1.4, 1.5, 3.1], [0.65, 0.6, 0.4, 0.88, 0.45, 2.32]]
p64_azul = [[0, 0, 0, 0.2, 0.4, 0.6, 0.8, 1.0, 2.3, 3.8, 4.0, 4.1, 4.3, 4.4, 4.6],
            [0.5, 0.4, 0.3, 0.45, 0.5, 0.55, 0.45, 0.55, 0.5, 0.4, 0.5, 0.6, 0.4, 0.3, 0.45]]

p65_rojo = [[0.6, 0.7, 0.9, 1.85, 3.0], [0.8, 1, 1.6, 6.3, 16.5]]
p65_azul = [[0, 0.2, 0.3, 0.4, 0.5, 0.6, 0.7, 1.0, 1.2, 2.15, 0.35], [0, 0.3, 0.2, 0.5, 0.4, 0.6, 1.0, 1.8, 2.5, 4.4, 0]]
p66_rojo = [[0.55, 0.65, 1.65], [0.45, 0.9, 7.3]]
p66_azul = [[0.35, 0.38, 0.4, 0.42, 0.45, 0.5, 0.58, 0.62, 0.75, 1.0, 0.4],
            [0.0, 0.1, 0.2, 0.3, 0.25, 0.3, 0.5, 0.7, 1.0, 1.7, 0.05]]
p67_rojo = [[0.9, 1.0, 3.0], [3.2, 2.2, 26]]
p67_azul = [[0.1, 0.2, 0.3, 0.4, 0.5, 0.6, 0.7, 0.8, 0.85, 2.05], [0, 0.3, 0.5, 1, 1.2, 0.8, 1.5, 2.5, 1.0, 6.3]]
p68_rojo = [[0.61], [0.58]]
p68_azul = [[0.08, 0.1, 0.12, 0.14, 0.16, 0.18, 0.2, 0.22, 0.24, 0.26, 0.28, 0.3, 0.32, 0.35, 0.38, 0.4, 0.63, 0.17, 0.27, 0.23],
            [0.02, 0.03, 0.05, 0.04, 0.05, 0.06, 0.09, 0.05, 0.07, 0.06, 0.05, 0.07, 0.08, 0.06, 0.05, 0.08, 0.29, 0.03, 0.08, 0.0]]
p69_rojo = [[0.76], [0.26]]
p69_azul = [[0.45, 0.48, 0.52, 0.54, 0.56, 0.58, 0.6, 0.61, 0.62, 0.62, 0.63, 0.63, 0.64, 0.64, 0.66, 0.68, 0.73, 0.8, 0.6, 0.62],
            [0.0, 0.0, 0.005, 0.015, 0.02, 0.01, 0.05, 0.04, 0.06, -0.01, 0.07, -0.035, 0.08, 0.02, 0.055, 0.135, 0.15, 0.24, 0.02, 0.03]]
p70_rojo = [[0.45, 0.45, 0.8], [1.85, 1.3, 3.5]]
p70_azul = [[0.0, 0.0, 0.0, 0.12, 0.15, 0.18, 0.2, 0.22, 0.25, 0.27, 0.3, 0.32, 0.35, 0.4, 0.47, 0.62, 0.64, 0.65, 0.85, 0.28, 0.22],
            [1.05, 0.4, 0.15, 0.05, 0.2, 0.35, 0.4, 0.5, 0.6, 0.7, 0.8, 0.9, 1.0, 1.4, 4.05, 2.3, 2.4, 3.2, 2.1, 0.25, 0.2]]
p71_rojo = [[0.27, 0.45, 0.57, 0.88, 1.03], [0.2, 0.52, 0.68, 1.18, 1.57]]
p71_azul = [[0.2, 0.22, 0.24, 0.25, 0.27, 0.3, 0.33, 0.35, 0.38, 0.4, 0.42, 0.44, 0.48, 0.55, 0.6, 0.62, 0.65, 0.68, 0.75, 0.77, 0.85, 0.26, 0.3],
            [0.1, 0.15, 0.05, 0.18, 0.1, 0.2, 0.28, 0.15, 0.25, 0.35, 0.38, 0.3, 0.0, 0.05, 0.1, 0.55, 0.15, 0.2, 0.35, 0.67, 0.37, 0.0, 0.1]]
p72_rojo = [[0.5, 0.54], [1.1, 1.45]]
p72_azul = [[0.18, 0.22, 0.24, 0.25, 0.26, 0.28, 0.3, 0.32, 0.33, 0.34, 0.35, 0.36, 0.51, 0.29],
            [0.0, 0.0, 0.02, 0.18, 0.03, 0.05, 0.08, 0.12, 0.05, 0.17, 0.15, 0.35, 1.2, 0.1]]

p73_rojo = [[0.25, 0.35, 0.4, 0.5, 0.65, 1.6, 1.7, 1.78, 1.8, 0.15], [0.7, 1.25, 1.4, 2.5, 3.45, 2.3, 2.6, 2.8, 4.6, 0.0]]
p73_azul = [[0.1, 0.15, 0.2, 0.25, 0.3, 0.35, 0.12], [0.1, 0.3, 0.5, 0.4, 0.9, 0.8, 0.6]]
p74_rojo = [[0.55, 0.7], [1.02, 1.7]]
p74_azul = [[-0.05, 0.0, 0.05, 0.1, 0.15, 0.2, 0.22, 0.25, 0.3, 0.32, 0.35, 0.38, 0.4, 0.42, 0.53, 0.7, 1.12],
            [0.07, 0.0, 0.02, 0.05, 0.0, 0.15, 0.08, 0.25, 0.15, 0.3, 0.2, 0.35, 0.1, 0.28, 0.8, 0.07, 0.17]]
p75_rojo = [[0.63, 0.77], [1.75, 1.95]]
p75_azul = [[0.12, 0.15, 0.18, 0.2, 0.22, 0.25, 0.28, 0.3, 0.35, 0.4, 0.65, 1.02, 1.23, 1.3],
            [0.1, 0.15, 0.2, 0.05, 0.25, 0.3, 0.38, 0.2, 0.15, 0.58, 1.27, 0.22, 0.0, 0.02]]
p76_rojo = [[0.34, 0.45], [1.45, 1.57]]
p76_azul = [[0.08, 0.1, 0.12, 0.16, 0.2, 0.22, 0.23, 0.25, 0.26, 0.27, 0.28, 0.3, 0.3, 0.54, 0.24, 0.26],
            [0.08, 0.1, 0.15, 0.22, 0.1, 0.08, 0.45, 0.2, 0.25, 0.1, 0.15, 0.25, 0.43, 1.33, 0.05, 0.0]]

rojos = [p01_rojo, p02_rojo, p03_rojo, p04_rojo, p05_rojo, p06_rojo, p07_rojo, p08_rojo,
         p09_rojo, p10_rojo, p11_rojo, p12_rojo, p13_rojo, p14_rojo, p15_rojo, p16_rojo,
         p17_rojo, p18_rojo, p19_rojo, p20_rojo, p21_rojo, p22_rojo, p23_rojo, p24_rojo,
         p25_rojo, p26_rojo, p27_rojo, p28_rojo, p29_rojo, p30_rojo, p31_rojo, p32_rojo,
         p33_rojo, p34_rojo, p35_rojo, p36_rojo, p37_rojo, p38_rojo, p39_rojo, p40_rojo,
         p41_rojo, p42_rojo, p43_rojo, p44_rojo, p45_rojo, p46_rojo, p47_rojo, p48_rojo,
         p49_rojo, p50_rojo, p51_rojo, p52_rojo, p53_rojo, p54_rojo, p55_rojo, p56_rojo,
         p57_rojo, p58_rojo, p59_rojo, p60_rojo, p61_rojo, p62_rojo, p63_rojo, p64_rojo,
         p65_rojo, p66_rojo, p67_rojo, p68_rojo, p69_rojo, p70_rojo, p71_rojo, p72_rojo,
         p73_rojo, p74_rojo, p75_rojo, p76_rojo]
azules = [p01_azul, p02_azul, p03_azul, p04_azul, p05_azul, p06_azul, p07_azul, p08_azul,
          p09_azul, p10_azul, p11_azul, p12_azul, p13_azul, p14_azul, p15_azul, p16_azul,
          p17_azul, p18_azul, p19_azul, p20_azul, p21_azul, p22_azul, p23_azul, p24_azul,
          p25_azul, p26_azul, p27_azul, p28_azul, p29_azul, p30_azul, p31_azul, p32_azul,
          p33_azul, p34_azul, p35_azul, p36_azul, p37_azul, p38_azul, p39_azul, p40_azul,
          p41_azul, p42_azul, p43_azul, p44_azul, p45_azul, p46_azul, p47_azul, p48_azul,
          p49_azul, p50_azul, p51_azul, p52_azul, p53_azul, p54_azul, p55_azul, p56_azul,
          p57_azul, p58_azul, p59_azul, p60_azul, p61_azul, p62_azul, p63_azul, p64_azul,
          p65_azul, p66_azul, p67_azul, p68_azul, p69_azul, p70_azul, p71_azul, p72_azul,
          p73_azul, p74_azul, p75_azul, p76_azul]

# grilla de 10 x 8 (en pixeles de la figura)
W, H = 1147, 1517
col_izq = [53, 185, 327, 466, 602, 747, 892, 1037]
fila_sup = [67, 214, 362, 509, 656, 803, 950, 1097, 1244, 1392]
ancho, alto = 96, 88
fs = 7.4  # letra base

fig = plt.figure(figsize=(W / 100, H / 100), dpi=100)
fig.suptitle('Aforos de la cuenca Matanza - Riachuelo', fontsize=12, y=0.9925)

for k in range(80):
    fila, col = divmod(k, 8)
    ax = fig.add_axes([col_izq[col] / W, 1 - (fila_sup[fila] + alto) / H, ancho / W, alto / H])
    # la grilla queda por encima de los puntos, como en el original
    ax.grid(True, color='#b0b0b0', lw=0.7)
    ax.tick_params(labelsize=fs, length=2.6, width=0.7, pad=2.6)
    for s in ax.spines.values():
        s.set_color('#3a3a3a')
        s.set_linewidth(1.0)
    if k < len(estaciones):
        ax.set_facecolor(colores_cuenca[cuencas[k]])
        az, ro = azules[k], rojos[k]
        if len(az[0]):
            ax.scatter(az[0], az[1], s=32, c='b', lw=0)
        if len(ro[0]):
            ax.scatter(ro[0], ro[1], s=32, c='r', lw=0)
        ax.set_title(estaciones[k] + '\n' + cuencas[k], fontsize=fs * 1.2, pad=4)
    if col == 0:
        ax.set_ylabel('Caudal [m³/s]', fontsize=fs, labelpad=3)
    if fila == 9:
        ax.set_xlabel('Escala [m]', fontsize=fs, labelpad=3)

fig.savefig('out.png', dpi=100)
